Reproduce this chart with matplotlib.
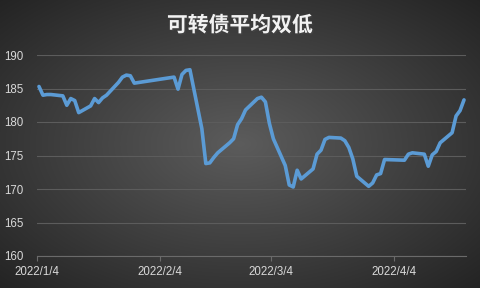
import numpy as np
import pandas as pd
import matplotlib
matplotlib.use("Agg")
import matplotlib.pyplot as plt
import matplotlib.patheffects as pe

plt.rcParams['font.family'] = ['Noto Sans CJK SC', 'DejaVu Sans']

# -------------------------------------------------------
# Data: average "double low" value of convertible bonds
# -------------------------------------------------------
dates = [
    "2022-01-04", "2022-01-05", "2022-01-06", "2022-01-07", "2022-01-10",
    "2022-01-11", "2022-01-12", "2022-01-13", "2022-01-14", "2022-01-17",
    "2022-01-18", "2022-01-19", "2022-01-20", "2022-01-21", "2022-01-24",
    "2022-01-25", "2022-01-26", "2022-01-27", "2022-01-28",
    "2022-02-07", "2022-02-08", "2022-02-09", "2022-02-10", "2022-02-11",
    "2022-02-14", "2022-02-15", "2022-02-16", "2022-02-17", "2022-02-18",
    "2022-02-21", "2022-02-22", "2022-02-23", "2022-02-24", "2022-02-25",
    "2022-02-28",
    "2022-03-01", "2022-03-02", "2022-03-03", "2022-03-04", "2022-03-07",
    "2022-03-08", "2022-03-09", "2022-03-10", "2022-03-11", "2022-03-14",
    "2022-03-15", "2022-03-16", "2022-03-17", "2022-03-18", "2022-03-21",
    "2022-03-22", "2022-03-23", "2022-03-24", "2022-03-25", "2022-03-28",
    "2022-03-29", "2022-03-30", "2022-03-31",
    "2022-04-01", "2022-04-06", "2022-04-07", "2022-04-08", "2022-04-11",
    "2022-04-12", "2022-04-13", "2022-04-14", "2022-04-15", "2022-04-18",
    "2022-04-19", "2022-04-20", "2022-04-21",
]
values = [
    185.3, 184.0, 184.1, 184.1, 183.9,
    182.5, 183.5, 183.2, 181.4, 182.4,
    183.5, 182.9, 183.6, 184.0, 185.9,
    186.7, 187.0, 186.9, 185.8,
    186.7, 184.9, 187.1, 187.7, 187.8,
    179.0, 173.8, 173.9, 174.7, 175.4,
    176.9, 177.5, 179.6, 180.5, 181.8,
    183.5,
    183.7, 183.0, 179.8, 177.5, 173.5,
    170.6, 170.3, 172.8, 171.5, 173.0,
    175.2, 175.8, 177.4, 177.7, 177.6,
    177.2, 176.2, 174.5, 171.9, 170.4,
    170.9, 172.1, 172.3,
    174.4, 174.3, 175.2, 175.4, 175.2,
    173.4, 175.1, 175.6, 176.9, 178.4,
    180.9, 181.7, 183.3,
]
tick_dates = ["2022-01-04", "2022-02-04", "2022-03-04", "2022-04-04"]
tick_labels = ["2022/1/4", "2022/2/4", "2022/3/4", "2022/4/4"]
y_ticks = [160, 165, 170, 175, 180, 185, 190]

title = "可转债平均双低"

# -------------------------------------------------------
# Figure with dark radial gradient background
# -------------------------------------------------------
fig = plt.figure(figsize=(4.8, 2.88), dpi=100)

bg = fig.add_axes([0, 0, 1, 1], zorder=0)
gx, gy = np.meshgrid(np.linspace(-1, 1, 480), np.linspace(-1, 1, 288))
r = np.sqrt(gx ** 2 + gy ** 2) / np.sqrt(2)
shade = 0.36 - 0.22 * np.clip(r, 0, 1)
bg.imshow(np.dstack([shade, shade, shade]), aspect="auto", extent=[0, 1, 0, 1])
bg.axis("off")

ax = fig.add_axes([37 / 480, 32 / 288, 429 / 480, 201 / 288], zorder=1)
ax.patch.set_alpha(0)

x = pd.to_datetime(dates) + pd.Timedelta(hours=12)
ax.plot(x, values, color="#5B9BD5", lw=2.6, solid_joinstyle="round",
        solid_capstyle="round", zorder=3)

ax.set_ylim(160, 190)
ax.set_yticks(y_ticks)
ax.set_xlim(pd.Timestamp("2022-01-04"), pd.Timestamp("2022-04-22"))
ax.set_xticks(pd.to_datetime(tick_dates))
ax.set_xticklabels(tick_labels)

ax.grid(axis="y", color="#5c5c5c", lw=0.8)
ax.set_axisbelow(True)
for side in ["top", "right", "left"]:
    ax.spines[side].set_visible(False)
ax.spines["bottom"].set_color("#6a6a6a")
ax.spines["bottom"].set_linewidth(0.8)

ax.tick_params(axis="y", length=0, pad=10, labelcolor="#D9D9D9",
               labelsize=8.3, labelfontfamily="Liberation Sans")
ax.tick_params(axis="x", length=3.5, width=0.8, color="#6a6a6a", pad=4,
               labelcolor="#D9D9D9", labelsize=8.3,
               labelfontfamily="Liberation Sans")

fig.text(0.5, 1 - 25 / 288, title, ha="center", va="center",
         fontsize=15, fontweight="bold", color="#F2F2F2",
         path_effects=[pe.withSimplePatchShadow(offset=(1, -1), alpha=0.5)])

fig.savefig("out.png", dpi=100)
